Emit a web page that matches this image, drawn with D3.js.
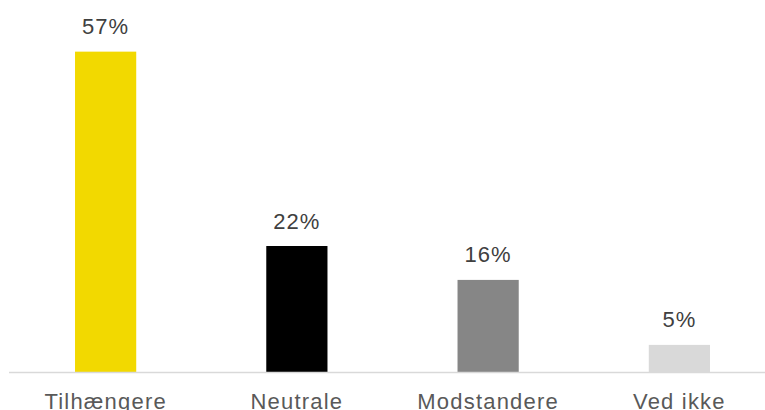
<!DOCTYPE html>
<html><head><meta charset="utf-8">
<script src="https://cdn.jsdelivr.net/npm/d3@7"></script>
<style>body{margin:0;background:#fff}svg{display:block}</style>
</head><body>
<svg id="c" width="765" height="410"></svg>
<script>
const categories = ["Tilhængere", "Neutrale", "Modstandere", "Ved ikke"];
const values = [56.7, 22.3, 16.3, 4.8];
const colors = ["#f2d900", "#000000", "#868686", "#d9d9d9"];

const svg = d3.select("#c");
const baseY = 372;
const x = d3.scaleBand().domain(categories).range([10, 775]).paddingInner(0.68).paddingOuter(0.34);
const y = d3.scaleLinear().domain([0, 60]).range([baseY, baseY - 60 * 5.65]);
const fmt = d3.format(".0%");
const data = categories.map((c, i) => ({c, v: values[i], col: colors[i]}));

svg.selectAll("rect.bar").data(data).join("rect")
  .attr("class", "bar")
  .attr("x", d => x(d.c)).attr("width", x.bandwidth())
  .attr("y", d => y(d.v)).attr("height", d => y(0) - y(d.v))
  .attr("fill", d => d.col);

svg.append("line").attr("x1", 9).attr("x2", 765).attr("y1", baseY + 0.5).attr("y2", baseY + 0.5)
  .attr("stroke", "#d9d9d9").attr("stroke-width", 1.5);

svg.selectAll("text.val").data(data).join("text")
  .attr("class", "val")
  .attr("x", d => x(d.c) + x.bandwidth() / 2).attr("y", d => y(d.v) - 17.5)
  .attr("text-anchor", "middle")
  .attr("font-family", "Liberation Sans, Arial, sans-serif").attr("font-size", 22)
  .attr("letter-spacing", 1)
  .attr("fill", "#404040")
  .text(d => fmt(d.v / 100));

svg.selectAll("text.cat").data(data).join("text")
  .attr("class", "cat")
  .attr("x", d => x(d.c) + x.bandwidth() / 2).attr("y", 409)
  .attr("text-anchor", "middle")
  .attr("font-family", "Liberation Sans, Arial, sans-serif").attr("font-size", 22)
  .attr("letter-spacing", 1.2)
  .attr("fill", "#595959")
  .text(d => d.c);
</script>
</body></html>
